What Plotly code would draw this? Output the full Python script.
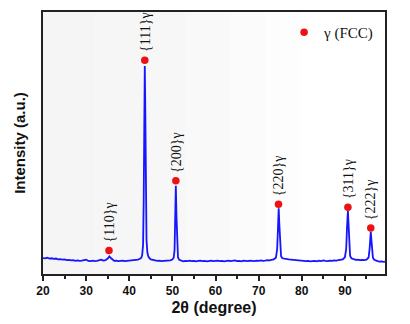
import plotly.graph_objects as go

# XRD pattern (2θ in degrees, intensity in arbitrary units)
two_theta = [
    20.0, 20.5, 21.0, 21.5, 22.0, 22.5, 23.0, 23.5, 24.0, 24.5, 25.0, 25.5, 26.0, 26.5,
    27.0, 27.5, 28.0, 28.5, 29.0, 29.5, 30.0, 30.5, 31.0, 31.5, 32.0, 32.5, 33.0, 33.5,
    34.0, 34.5, 35.0, 35.4, 35.8, 36.2, 36.5, 37.0, 37.5, 38.0, 38.5, 39.0, 39.5, 40.0,
    40.5, 41.0, 41.5, 42.0, 42.5,
    42.8, 43.0, 43.2, 43.35, 43.5, 43.6, 43.7, 43.85, 44.0, 44.2, 44.4, 44.7, 45.0,
    45.5, 46.0, 46.5, 47.0, 47.5, 48.0, 48.5, 49.0, 49.5, 50.0, 50.3,
    50.5, 50.65, 50.8, 50.95, 51.1, 51.3, 51.6, 52.0, 52.5, 53.0, 53.5, 54.0, 54.5,
    55.0, 55.5, 56.0, 56.5, 57.0, 57.5, 58.0, 58.5, 59.0, 59.5, 60.0, 60.5, 61.0,
    61.5, 62.0, 62.5, 63.0, 63.5, 64.0, 64.5, 65.0, 65.5, 66.0, 66.5, 67.0, 67.5,
    68.0, 68.5, 69.0, 69.5, 70.0, 70.5, 71.0, 71.5, 72.0, 72.5, 73.0, 73.5, 74.0,
    74.3, 74.5, 74.65, 74.8, 75.0, 75.2, 75.5, 76.0, 76.5, 77.0, 77.5, 78.0, 78.5,
    79.0, 79.5, 80.0, 80.5, 81.0, 81.5, 82.0, 82.5, 83.0, 83.5, 84.0, 84.5, 85.0,
    85.5, 86.0, 86.5, 87.0, 87.5, 88.0, 88.5, 89.0, 89.5, 90.0,
    90.3, 90.5, 90.7, 90.85, 91.0, 91.2, 91.5, 92.0, 92.5, 93.0, 93.5, 94.0, 94.5,
    95.0, 95.5, 95.75, 95.9, 96.0, 96.15, 96.3, 96.5, 96.8, 97.2, 97.6, 98.0, 98.5,
    99.0, 99.3,
]
intensity = [
    6.1, 6.0, 6.2, 5.9, 6.0, 5.8, 5.9, 5.6, 5.7, 5.5, 5.6, 5.3, 5.4, 5.2,
    5.3, 5.0, 5.2, 5.0, 5.1, 5.3, 5.5, 5.0, 4.9, 5.1, 4.9, 5.0, 5.2, 5.5,
    5.1, 5.3, 5.9, 6.7, 6.0, 5.3, 5.0, 5.1, 4.9, 5.0, 5.1, 4.9, 5.0, 5.1,
    5.0, 5.2, 5.3, 5.5, 5.8,
    6.2, 7.2, 11.0, 28.0, 62.0, 79.4, 66.0, 32.0, 13.0, 8.2, 6.8, 6.0, 5.6,
    5.4, 5.2, 5.0, 5.1, 4.9, 5.0, 5.1, 5.0, 5.2, 5.5, 6.2,
    9.0, 20.0, 33.7, 22.0, 10.0, 6.3, 5.4, 5.0, 4.8, 5.0, 4.9, 5.1, 4.9,
    5.0, 4.8, 5.0, 5.1, 4.9, 5.0, 4.8, 5.0, 5.1, 4.9, 5.0, 5.1, 4.9,
    5.0, 4.8, 5.0, 5.1, 4.9, 5.0, 5.2, 4.9, 5.0, 4.8, 5.1, 5.0, 4.9,
    5.1, 5.0, 4.9, 5.1, 5.0, 5.2, 5.0, 5.1, 5.3, 5.2, 5.3, 5.6, 6.2,
    9.5, 18.0, 25.1, 19.0, 9.5, 6.8, 6.0, 5.8, 5.7, 5.6, 5.5, 5.4, 5.3,
    5.2, 5.2, 5.0, 5.1, 4.9, 5.0, 4.8, 4.9, 5.0, 4.8, 5.1, 4.9, 5.2,
    5.0, 4.9, 5.1, 5.0, 5.2, 5.1, 5.3, 5.4, 5.6, 6.4,
    9.5, 18.0, 24.0, 19.0, 10.0, 7.0, 6.0, 5.6, 5.4, 5.5, 5.3, 5.4, 5.3,
    5.5, 6.3, 10.0, 14.5, 16.1, 13.0, 8.5, 6.2, 5.4, 5.0, 4.9, 4.7, 4.8,
    4.6, 4.7,
]

# Indexed γ (FCC) reflections
peak_labels = ["{110}γ", "{111}γ", "{200}γ", "{220}γ", "{311}γ", "{222}γ"]
peak_pos = [35.3, 43.6, 50.8, 74.6, 90.7, 96.0]
peak_mark = [9.0, 81.6, 35.6, 26.6, 25.5, 17.6]

x_ticks = [20, 30, 40, 50, 60, 70, 80, 90]

fig = go.Figure()
fig.add_trace(go.Scatter(
    x=two_theta, y=intensity, mode="lines",
    line=dict(color="#1515ff", width=1.8),
    showlegend=False, hoverinfo="skip",
))
fig.add_trace(go.Scatter(
    x=peak_pos, y=peak_mark, mode="markers",
    marker=dict(color="#ee1111", size=7.5, line=dict(width=0)),
    name="γ (FCC)", showlegend=True,
))

for lab, xp, yp in zip(peak_labels, peak_pos, peak_mark):
    fig.add_annotation(
        x=xp, y=yp, text=lab, showarrow=False, textangle=-90,
        xanchor="center", yanchor="bottom", yshift=6,
        font=dict(family="Liberation Serif", size=14, color="#111"),
    )

# very faint background shading, strongest on the left
shade = [("#f5f5f5", 0.0, 0.15), ("#f6f6f6", 0.15, 0.3), ("#f7f7f7", 0.3, 0.42),
         ("#f9f9f9", 0.42, 0.55), ("#fbfbfb", 0.55, 0.65), ("#fdfdfd", 0.65, 0.75)]
for col, x0, x1 in shade:
    fig.add_shape(type="rect", xref="paper", yref="paper", x0=x0, x1=x1, y0=0, y1=1,
                  fillcolor=col, line=dict(width=0), layer="below")

fig.update_layout(
    width=410, height=324,
    margin=dict(l=43, r=25, t=10, b=47),
    paper_bgcolor="white", plot_bgcolor="white",
    font=dict(family="Liberation Sans", color="#111"),
    legend=dict(
        x=0.705, y=0.985, xanchor="left", yanchor="top",
        bgcolor="rgba(0,0,0,0)", borderwidth=0,
        font=dict(family="Liberation Serif", size=15, color="#111"),
        itemwidth=30,
    ),
    xaxis=dict(
        range=[20, 99.3], tickvals=x_ticks,
        showgrid=False, zeroline=False,
        showline=True, linecolor="#222", linewidth=2, mirror=True,
        ticks="outside", ticklen=5, tickwidth=1.5, tickcolor="#222",
        minor=dict(dtick=5, ticks="outside", ticklen=3, tickwidth=1.5, tickcolor="#222", showgrid=False),
        tickfont=dict(family="Liberation Sans", size=12, weight="bold", color="#111"),
        title=dict(text="2θ (degree)", standoff=4,
                   font=dict(family="Liberation Sans", size=16, weight="bold", color="#111")),
    ),
    yaxis=dict(
        range=[0, 100], showticklabels=False, ticks="",
        showgrid=False, zeroline=False,
        showline=True, linecolor="#222", linewidth=2, mirror=True,
        title=dict(text="Intensity (a.u.)", standoff=12,
                   font=dict(family="Liberation Sans", size=15, weight="bold", color="#111")),
    ),
)

fig.write_html("out.html")
